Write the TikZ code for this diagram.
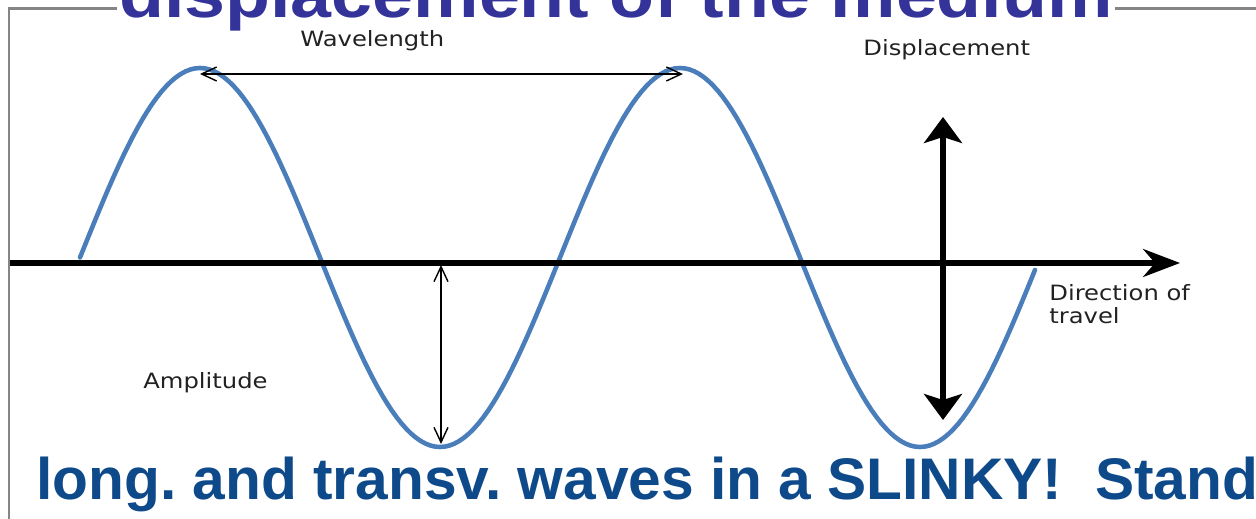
\documentclass[tikz,border=0pt]{standalone}
\usepackage{fontspec}
\setmainfont{Liberation Sans}
\newfontfamily\labelfont[FakeStretch=1.15]{DejaVu Sans}
\newfontfamily\headfont[FakeStretch=1.12]{Liberation Sans}
\usetikzlibrary{arrows.meta}
\definecolor{waveblue}{HTML}{4A7EBB}
\definecolor{titleblue}{HTML}{333399}
\definecolor{slinkyblue}{HTML}{0E4A8A}
\definecolor{labelgray}{HTML}{222222}
\frenchspacing

\begin{document}
\begin{tikzpicture}[x=0.02cm,y=-0.02cm,
    wave/.style={waveblue,line width=2.6pt,line cap=round},
    boxline/.style={draw=black!48,line width=1.7pt},
    axisline/.style={line width=2.9pt,-{Stealth[length=0.74cm,width=0.56cm,inset=0.24cm]}},
    disparrow/.style={line width=3.4pt,{Stealth[length=0.52cm,width=0.76cm,inset=0.12cm]}-{Stealth[length=0.52cm,width=0.76cm,inset=0.12cm]}},
    dimarrow/.style={line width=0.8pt,{Straight Barb[length=0.3cm,width=0.28cm]}-{Straight Barb[length=0.3cm,width=0.28cm]}},
    wavelabel/.style={font=\labelfont\fontsize{12}{13}\selectfont,text=labelgray,inner sep=0pt,anchor=base west},
]
\useasboundingbox (0,0) rectangle (1256,519);

% heading runs off the top edge
\node[inner xsep=1pt,inner ysep=0pt,anchor=base west,text=titleblue,
      font=\headfont\bfseries\fontsize{37.4}{40}\selectfont] (title) at (117,18) {displacement of the medium};
% slide frame, broken where the heading sits
\draw[boxline] (9,519) |- (title.west |- 0,9);
\draw[boxline] (title.east |- 0,9) -- (1256,9);

\draw[wave] plot[domain=80:1035,samples=200] (\x,{257.5-189.5*sin(0.75*(\x-80))});

\coordinate (axisL) at (10,263);
\coordinate (axisR) at (1180,263);
\coordinate (crestA) at (200,74);
\coordinate (crestB) at (683,74);
\coordinate (ampTop) at (441,265);
\coordinate (ampBot) at (441,444);
\coordinate (dispTop) at (943,117);
\coordinate (dispBot) at (943,420);

\draw[axisline] (axisL) -- (axisR);
\draw[dimarrow] (crestA) -- (crestB);
\draw[dimarrow] (ampTop) -- (ampBot);
\draw[disparrow] (dispTop) -- (dispBot);

\node[wavelabel] (wavelength) at (300,47) {Wavelength};
\node[wavelabel] (displacement) at (863,56) {Displacement};
\node[wavelabel] (amplitude) at (143,389) {Amplitude};
\node[wavelabel] (direction) at (1049,301) {Direction of};
\node[wavelabel] (travel) at (1049,324) {travel};

\node[inner sep=0pt,anchor=base west,text=slinkyblue,
      font=\bfseries\fontsize{33.4}{36}\selectfont] (slinky) at (36,500) {long. and transv. waves in a SLINKY!\ \ Stand};
\end{tikzpicture}
\end{document}
